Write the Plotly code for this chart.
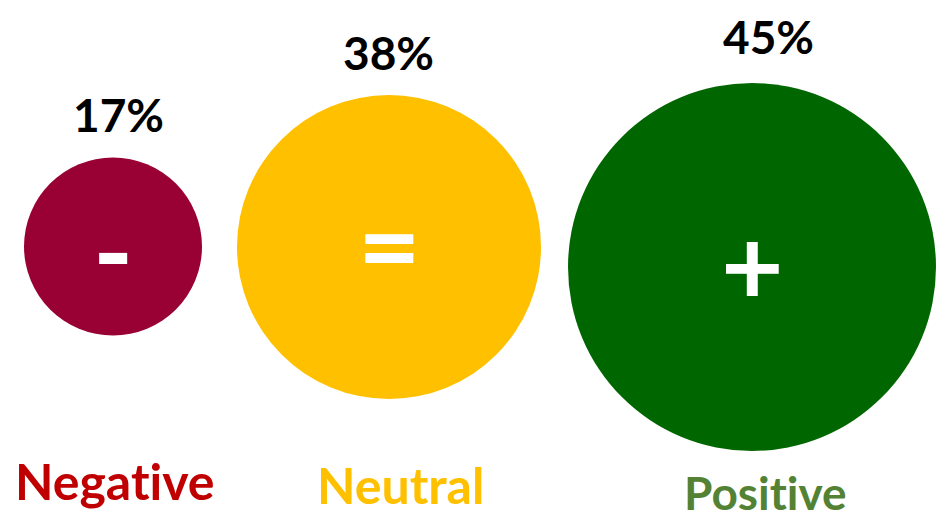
import plotly.graph_objects as go

# ---- data ----
categories = ["Negative", "Neutral", "Positive"]
shares = [17, 38, 45]            # percent
symbols = ["-", "=", "+"]

# ---- layout / style (pixel space) ----
cx = [113, 389, 752]
cy = [246.5, 247, 267]
diam = [178, 304, 368]
circle_colors = ["#990033", "#FFC000", "#006600"]
label_colors = ["#C00000", "#FFC000", "#548235"]
label_sizes = [50, 50, 46]
pct_xy = [(118, 114), (388, 52), (768, 36)]
lab_xy = [(115, 481), (400, 485), (765, 492)]
sym_dy = [2, -4, -4]

FONT = "Lato"


def no_lig(s):
    # avoid the Lato "ti" ligature
    return s.replace("ti", "t\u200ci")


fig = go.Figure()
fig.add_trace(go.Scatter(
    x=cx, y=cy, mode="markers",
    marker=dict(size=diam, color=circle_colors, line=dict(width=0), opacity=1),
    hoverinfo="skip", showlegend=False,
))

ann = []
for i, cat in enumerate(categories):
    ann.append(dict(x=pct_xy[i][0], y=pct_xy[i][1], text=f"<b>{shares[i]}%</b>",
                    showarrow=False, xanchor="center", yanchor="middle",
                    font=dict(family=FONT, size=46, color="black")))
    ann.append(dict(x=lab_xy[i][0], y=lab_xy[i][1], text=f"<b>{no_lig(cat)}</b>",
                    showarrow=False, xanchor="center", yanchor="middle",
                    borderpad=0,
                    font=dict(family=FONT, size=label_sizes[i], color=label_colors[i])))
    ann.append(dict(x=cx[i], y=cy[i] + sym_dy[i], text=f"<b>{symbols[i]}</b>",
                    showarrow=False, xanchor="center", yanchor="middle",
                    font=dict(family=FONT, size=108, color="white")))

fig.update_layout(
    width=948, height=520,
    margin=dict(l=0, r=0, t=0, b=0),
    paper_bgcolor="white", plot_bgcolor="white",
    xaxis=dict(range=[0, 948], visible=False, fixedrange=True),
    yaxis=dict(range=[520, 0], visible=False, fixedrange=True),
    annotations=ann,
)
fig.write_html(
    "out.html",
    config={"displayModeBar": False},
    post_script="document.body.style.margin='0';document.body.style.overflow='hidden';",
)
